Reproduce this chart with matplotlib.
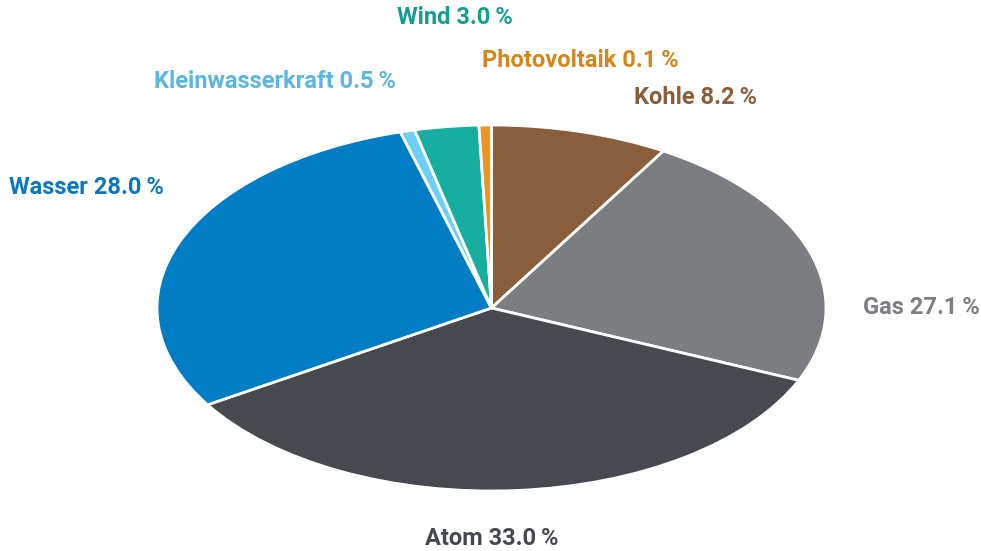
import matplotlib
matplotlib.use("Agg")
import matplotlib.pyplot as plt

plt.rcParams["font.family"] = ["Roboto", "DejaVu Sans"]

# slices clockwise from 12 o'clock
labels = ["Kohle", "Gas", "Atom", "Wasser", "Kleinwasserkraft", "Wind", "Photovoltaik"]
label_pct = [8.2, 27.1, 33.0, 28.0, 0.5, 3.0, 0.1]
# slice sizes as drawn in the picture (measured from the wedge angles)
drawn_share = [8.6, 22.9, 34.7, 29.5, 0.7, 3.1, 0.6]

colors = ["#8a5d3b", "#7c7d81", "#46494e", "#007dc4", "#6dcff6", "#16ae9f", "#e9951f"]
text_colors = ["#8a5d3b", "#7c7d81", "#46494e", "#0a78c0", "#5ab7e0", "#139e8e", "#d4861a"]

# label anchor positions in axes data units (x, y, horizontal alignment)
label_pos = [
    (0.425, 1.153, "left"),
    (1.110, 0.0, "left"),
    (0.0, -1.262, "center"),
    (-1.443, 0.661, "left"),
    (-1.009, 1.235, "left"),
    (-0.284, 1.585, "left"),
    (-0.027, 1.355, "left"),
]

fig = plt.figure(figsize=(9.81, 5.51), dpi=100)
ax = fig.add_axes([157 / 981, 60 / 551, 669 / 981, 366 / 551])

ax.pie(drawn_share, colors=colors, startangle=90, counterclock=False,
       wedgeprops=dict(edgecolor="white", linewidth=2))
ax.set_aspect("auto")
ax.set_xlim(-1, 1)
ax.set_ylim(-1, 1)
ax.axis("off")

for name, pct, col, (x, y, ha) in zip(labels, label_pct, text_colors, label_pos):
    ax.text(x, y, f"{name} {pct:.1f}\u2009%", color=col, fontsize=17, fontweight="bold",
            ha=ha, va="center", clip_on=False)

fig.savefig("out.png", dpi=100)
